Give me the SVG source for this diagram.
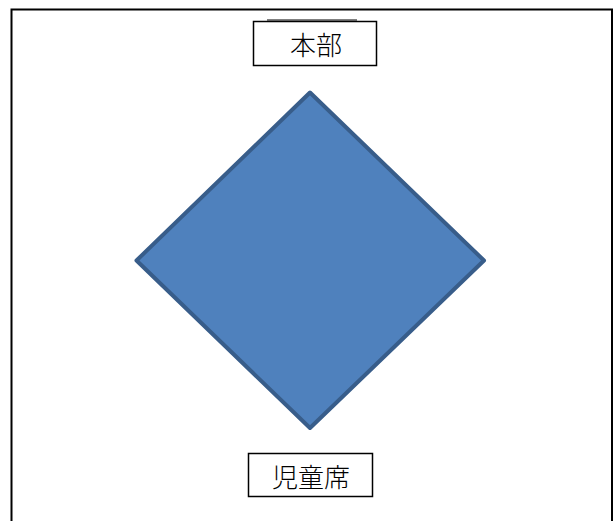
<svg xmlns="http://www.w3.org/2000/svg" width="614" height="521" viewBox="0 0 614 521">
<style>
.frame{fill:none;stroke:#000;stroke-width:2}
.box{fill:#fff;stroke:#000;stroke-width:1.5}
.lbl{font-family:"Noto Sans CJK JP","Noto Sans CJK SC",sans-serif;font-size:26px;font-weight:300;fill:#000;text-anchor:middle}
.shape{fill:#4F81BD;stroke:#385D8A;stroke-width:4;stroke-linejoin:round}
</style>
<rect width="614" height="521" fill="#fff"/>
<g id="frame">
<polyline class="frame" points="11.5,521 11.5,9.5 612,9.5 612,521"/>
</g>
<g id="honbu">
<line x1="267" y1="20" x2="357" y2="20" stroke="#000" stroke-width="1"/>
<rect class="box" x="253.5" y="21.5" width="123" height="44"/>
<text class="lbl" x="316" y="55">本部</text>
</g>
<g id="diamond">
<polygon class="shape" points="310,92.5 484,260.5 310,428 136.5,260.5"/>
</g>
<g id="jidouseki">
<rect class="box" x="248.5" y="453.5" width="124" height="43"/>
<text class="lbl" x="311" y="487">児童席</text>
</g>
<g id="connectors"/>
</svg>
